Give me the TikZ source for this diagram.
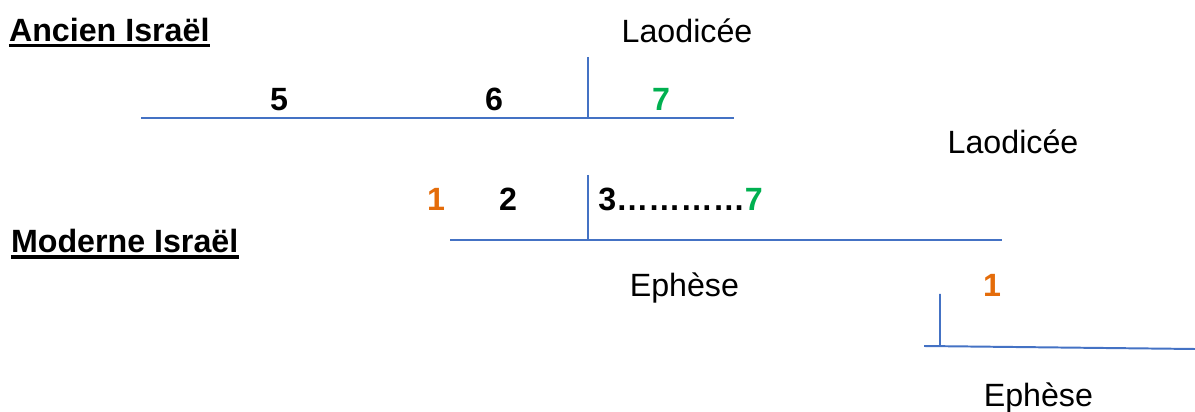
\documentclass[tikz,border=0pt]{standalone}
\usepackage{fontspec}
\setmainfont{Liberation Sans}
\definecolor{bleu}{HTML}{4472C4}
\definecolor{vert}{HTML}{00B050}
\definecolor{orangep}{HTML}{E46C0A}

\begin{document}
\begin{tikzpicture}[
    trait/.style={draw=bleu, line width=1.4pt},
    txt/.style={anchor=base, inner sep=0pt, font=\fontsize{22.9}{27}\selectfont},
    num/.style={txt, font=\fontsize{22.9}{27}\selectfont\bfseries},
    titre/.style={num, anchor=base west}]
    \useasboundingbox (0,0) rectangle (29.875,10.275);
    % les deux titres soulignes
    \node[titre] (ancien) at (0.22,9.24) {Ancien Israël};
    \node[titre] (moderne) at (0.27,3.95) {Moderne Israël};
    \foreach \t in {ancien, moderne}{
      \draw[line width=2.6pt] ([yshift=-2.9pt]\t.base west) -- ([yshift=-2.9pt]\t.base east);
    }
    % ancien Israel
    \draw[trait] (3.525,7.325) -- (18.35,7.325) (14.7,8.85) -- (14.7,7.325);
    \node[txt] (laoA) at (17.175,9.21) {Laodicée};
    \node[num] (cinq) at (6.975,7.5) {5};
    \node[num] (six) at (12.35,7.5) {6};
    \node[num, text=vert] (septA) at (16.525,7.5) {7};
    % moderne Israel
    \draw[trait] (11.25,4.275) -- (25.05,4.275) (14.7,5.9) -- (14.7,4.275);
    \node[num, text=orangep] (unA) at (10.9,5.0) {1};
    \node[num] (deux) at (12.7,5.0) {2};
    \node[num, anchor=base west] (trois) at (14.95,5.0) {3…………\textcolor{vert}{7}};
    \node[txt] (laoB) at (25.325,6.44) {Laodicée};
    \node[txt] (ephA) at (17.11,2.85) {Ephèse};
    % suite
    \draw[trait] (23.1,1.625) -- (29.875,1.55) (23.5,2.925) -- (23.5,1.625);
    \node[num, text=orangep] (unB) at (24.8,2.85) {1};
    \node[txt] (ephB) at (25.96,0.12) {Ephèse};
\end{tikzpicture}
\end{document}
